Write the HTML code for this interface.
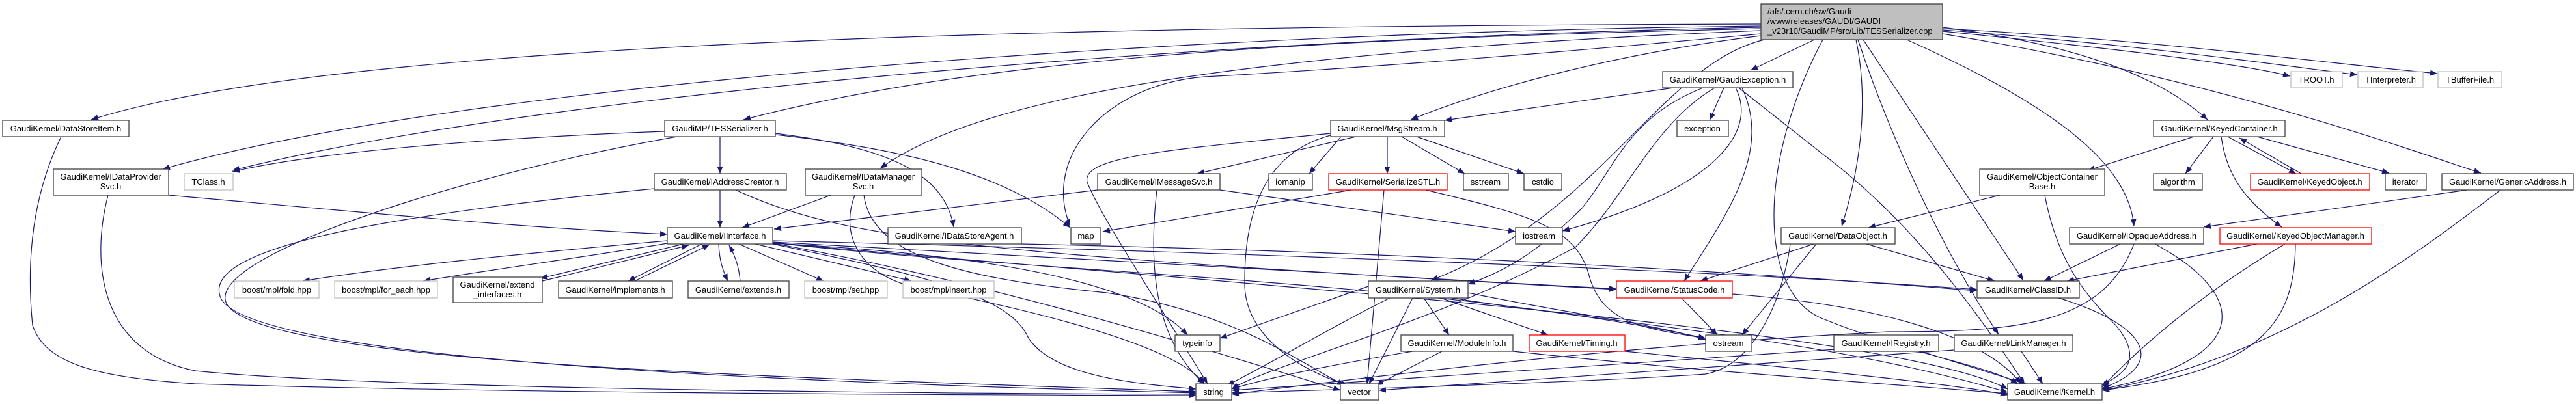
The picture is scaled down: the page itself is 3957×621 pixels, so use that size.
<!DOCTYPE html>
<html><head><meta charset="utf-8"><style>
html,body{margin:0;padding:0;background:#fff;}
svg{display:block;}
text{font-family:"Liberation Sans",sans-serif;font-size:13px;fill:#000;}
</style></head><body>
<svg width="3957" height="621" viewBox="0 0 3957 621" xmlns="http://www.w3.org/2000/svg">
<defs>
<marker id="a" markerUnits="userSpaceOnUse" markerWidth="11" markerHeight="9" refX="11" refY="4.5" orient="auto">
<path d="M0,0 L11,4.5 L0,9 z" fill="#191970"/>
</marker>
</defs>
<rect width="3957" height="621" fill="#fff"/>
<g fill="none" stroke="#191970" stroke-width="1.2" marker-end="url(#a)">
<!-- main node edges -->
<path d="M2705,37 C1500,40 500,70 140,184"/>
<path d="M2705,40 C1800,50 700,130 250,260"/>
<path d="M2705,42 C1800,60 800,150 357,262"/>
<path d="M2705,44 C2000,60 1500,90 1142,184"/>
<path d="M2705,47 C1900,80 1500,150 1352,259"/>
<path d="M2705,52 C2300,90 2000,110 1850,118 C1700,130 1600,240 1644,348"/>
<path d="M2705,55 C2500,80 2300,130 2167,184"/>
<path d="M2787,61 L2689,108"/>
<path d="M2710,61 C2550,100 2460,330 2198,431"/>
<path d="M2851,61 C2870,150 2860,250 2829,348"/>
<path d="M2862,61 L3108,431"/>
<path d="M2854,61 C2900,200 2980,380 3070,514"/>
<path d="M2929,61 C3150,160 3270,250 3278,348"/>
<path d="M2984,42 C3200,70 3320,120 3391,184"/>
<path d="M2984,48 C3300,80 3450,100 3518,117"/>
<path d="M2984,46 C3300,70 3500,100 3621,115"/>
<path d="M2984,44 C3300,60 3600,100 3744,113"/>
<path d="M2984,52 C3400,120 3700,230 3811,266"/>
<path d="M2800,61 C2700,250 2700,450 2800,490 C2950,550 3050,560 3100,590"/>
<!-- TESSerializer -->
<path d="M1106,210 L1106,267"/>
<path d="M1021,202 C800,210 500,230 357,264"/>
<path d="M1191,207 C1400,230 1550,270 1644,350"/>
<path d="M1191,205 C1350,225 1450,260 1465,349"/>
<path d="M1040,210 C700,270 300,400 350,470 C420,560 1200,580 1837,602"/>
<!-- IAddressCreator -->
<path d="M1106,292 L1106,350"/>
<path d="M1005,290 C600,330 300,380 340,460 C400,560 1300,590 1837,604"/>
<path d="M1130,292 C1300,370 1500,390 2483,445"/>
<!-- IDataProviderSvc -->
<path d="M259,300 C600,330 800,350 1025,360"/>
<path d="M166,300 C140,400 150,540 300,570 C600,600 1500,605 1837,606"/>
<!-- DataStoreItem -->
<path d="M94,210 C50,300 40,400 50,500 C70,560 150,580 300,590 C800,605 1500,607 1837,608"/>
<!-- IDataManagerSvc -->
<path d="M1276,300 L1140,350"/>
<path d="M1313,300 C1290,360 1320,420 1400,440 C1500,460 1800,520 1850,590"/>
<path d="M1327,300 C1340,400 1500,430 1700,450 C1900,480 2000,560 2065,592"/>
<!-- IMessageSvc -->
<path d="M1686,292 L1189,352"/>
<path d="M1777,292 C1765,400 1770,520 1850,590"/>
<path d="M1874,292 L2328,356"/>
<!-- IInterface -->
<path d="M1050,375 L830,428"/>
<path d="M833,432 L1058,377"/>
<path d="M1078,375 L965,432"/>
<path d="M975,432 L1090,376"/>
<path d="M1104,375 C1105,400 1110,415 1118,432"/>
<path d="M1137,432 C1135,410 1130,395 1120,377"/>
<path d="M1025,370 C800,390 600,410 465,432"/>
<path d="M1025,374 C900,395 750,415 650,432"/>
<path d="M1135,375 L1265,432"/>
<path d="M1160,375 L1400,432"/>
<path d="M1187,370 C2000,390 2700,420 3037,445"/>
<path d="M1187,372 C1700,400 2200,430 2483,444"/>
<path d="M1187,374 C1500,390 1750,430 1824,515"/>
<path d="M1187,375 C1400,420 1550,450 1580,520 C1620,580 1750,590 1837,598"/>
<path d="M1187,374 C1500,430 1800,520 2059,600"/>
<path d="M1187,373 C1600,420 2200,430 2620,520"/>
<path d="M1187,373 C1800,430 2900,500 3084,598"/>
<path d="M1569,375 C1800,380 2400,395 3037,447"/>
<!-- MsgStream -->
<path d="M2083,210 L1839,267"/>
<path d="M2131,210 L2131,267"/>
<path d="M2060,210 L2011,267"/>
<path d="M2153,210 L2250,267"/>
<path d="M2176,210 L2341,267"/>
<path d="M2044,205 C1800,230 1660,240 1670,280 C1690,330 1750,420 1855,590"/>
<path d="M2044,208 C1960,230 1910,300 1912,440 C1915,520 2000,570 2070,592"/>
<!-- SerializeSTL -->
<path d="M2076,292 L1694,356"/>
<path d="M2126,292 L2100,590"/>
<path d="M2190,292 C2350,330 2420,350 2440,420 C2460,500 2530,505 2620,520"/>
<!-- GaudiException -->
<path d="M2571,135 L2219,185"/>
<path d="M2648,135 L2626,185"/>
<path d="M2616,135 C2500,180 2480,260 2430,320 C2350,400 2300,420 2255,437"/>
<path d="M2634,135 C2540,190 2500,300 2420,380 C2200,500 1950,560 1892,598"/>
<path d="M2666,135 C2700,200 2640,290 2400,355"/>
<path d="M2676,135 C2720,230 2660,320 2587,432"/>
<path d="M2671,135 L2800,237 C2950,350 3050,500 3110,590"/>
<!-- System -->
<path d="M2102,440 L1874,520"/>
<path d="M2135,458 C2050,500 1950,560 1885,592"/>
<path d="M2170,458 L2103,590"/>
<path d="M2187,458 L2226,515"/>
<path d="M2213,458 L2378,515"/>
<path d="M2230,458 C2500,500 2800,520 3084,603"/>
<path d="M2255,450 C2400,480 2550,500 2620,522"/>
<!-- ModuleInfo / Timing -->
<path d="M2215,540 L2114,592"/>
<path d="M2170,540 C2050,560 1950,580 1892,598"/>
<path d="M2324,540 C2600,570 2900,590 3084,605"/>
<path d="M2496,540 C2800,570 3000,590 3084,607"/>
<!-- StatusCode -->
<path d="M2583,458 L2638,515"/>
<path d="M2661,452 C2900,470 3050,520 3105,590"/>
<!-- DataObject -->
<path d="M2786,375 L2612,432"/>
<path d="M2790,375 L2676,515"/>
<path d="M2867,375 L3064,432"/>
<path d="M2750,375 C2740,450 2700,560 2620,575 C2400,590 2000,600 1892,604"/>
<!-- ObjectContainerBase -->
<path d="M3072,300 L2870,350"/>
<path d="M3141,300 C3160,400 3200,450 3250,500 C3300,560 3250,580 3229,592"/>
<!-- KeyedContainer -->
<path d="M3370,210 L3207,262"/>
<path d="M3400,210 L3357,267"/>
<path d="M3422,210 L3527,267"/>
<path d="M3535,267 L3440,212"/>
<path d="M3467,210 L3670,266"/>
<path d="M3412,210 C3420,270 3450,310 3505,349"/>
<!-- KeyedObjectManager -->
<path d="M3467,375 L3175,432"/>
<path d="M3510,375 C3400,440 3300,520 3229,595"/>
<path d="M3526,375 C3525,500 3470,570 3229,600"/>
<!-- IOpaqueAddress -->
<path d="M3257,375 L3140,432"/>
<path d="M3310,375 C3450,450 3470,550 3229,598"/>
<path d="M3278,375 C3230,500 3100,510 2900,510 C2500,530 2100,580 1892,606"/>
<!-- GenericAddress -->
<path d="M3790,292 L3385,349"/>
<path d="M3841,292 C3700,400 3500,550 3229,600"/>
<!-- ClassID, IRegistry, LinkManager -->
<path d="M3162,458 C3300,500 3330,560 3229,597"/>
<path d="M2950,540 L3112,590"/>
<path d="M2820,537 L1892,600"/>
<path d="M3105,540 L3138,590"/>
<path d="M3002,538 L2118,600"/>
</g>

<g stroke-width="1.3">
<!-- main node -->
<rect x="2705" y="6" width="279" height="55" fill="#bfbfbf" stroke="#404040"/>
<text x="2715" y="22">/afs/.cern.ch/sw/Gaudi</text>
<text x="2715" y="37">/www/releases/GAUDI/GAUDI</text>
<text x="2715" y="52">_v23r10/GaudiMP/src/Lib/TESSerializer.cpp</text>
</g>

<g fill="#fff" stroke="#404040" stroke-width="1.3">
<rect x="4" y="185" width="194" height="25"/>
<rect x="82" y="260" width="177" height="40"/>
<rect x="1021" y="185" width="170" height="25"/>
<rect x="1005" y="267" width="203" height="25"/>
<rect x="1237" y="260" width="179" height="40"/>
<rect x="1025" y="350" width="162" height="25"/>
<rect x="696" y="426" width="137" height="39"/>
<rect x="858" y="432" width="175" height="26"/>
<rect x="1057" y="432" width="155" height="26"/>
<rect x="1364" y="350" width="205" height="25"/>
<rect x="1645" y="350" width="46" height="25"/>
<rect x="1686" y="267" width="188" height="25"/>
<rect x="1949" y="267" width="67" height="25"/>
<rect x="2044" y="185" width="175" height="25"/>
<rect x="1805" y="515" width="69" height="25"/>
<rect x="1837" y="590" width="55" height="25"/>
<rect x="2059" y="590" width="59" height="25"/>
<rect x="2554" y="110" width="200" height="25"/>
<rect x="2576" y="185" width="79" height="25"/>
<rect x="2248" y="267" width="69" height="25"/>
<rect x="2341" y="267" width="58" height="25"/>
<rect x="2328" y="350" width="72" height="25"/>
<rect x="2102" y="432" width="153" height="26"/>
<rect x="2152" y="515" width="172" height="25"/>
<rect x="2620" y="515" width="71" height="25"/>
<rect x="2736" y="350" width="175" height="25"/>
<rect x="3308" y="185" width="202" height="25"/>
<rect x="3041" y="260" width="192" height="40"/>
<rect x="3308" y="267" width="75" height="25"/>
<rect x="3664" y="267" width="63" height="25"/>
<rect x="3751" y="267" width="202" height="25"/>
<rect x="3179" y="350" width="206" height="25"/>
<rect x="3037" y="432" width="157" height="26"/>
<rect x="2817" y="515" width="161" height="25"/>
<rect x="3002" y="515" width="182" height="25"/>
<rect x="3084" y="590" width="145" height="25"/>
</g>
<g fill="#fff" stroke="#ff0000" stroke-width="1.3">
<rect x="2041" y="267" width="182" height="25"/>
<rect x="2483" y="432" width="178" height="26"/>
<rect x="2349" y="515" width="147" height="25"/>
<rect x="3457" y="267" width="183" height="25"/>
<rect x="3410" y="350" width="233" height="25"/>
</g>
<g fill="#fff" stroke="#bfbfbf" stroke-width="1.3">
<rect x="283" y="267" width="75" height="25"/>
<rect x="360" y="432" width="130" height="26"/>
<rect x="514" y="432" width="158" height="26"/>
<rect x="1236" y="432" width="127" height="26"/>
<rect x="1387" y="432" width="140" height="26"/>
<rect x="3519" y="110" width="79" height="25"/>
<rect x="3622" y="110" width="100" height="25"/>
<rect x="3745" y="110" width="98" height="25"/>
</g>

<g text-anchor="middle">
<text x="101" y="202">GaudiKernel/DataStoreItem.h</text>
<text x="170" y="276">GaudiKernel/IDataProvider</text>
<text x="170" y="291">Svc.h</text>
<text x="320" y="284">TClass.h</text>
<text x="1106" y="202">GaudiMP/TESSerializer.h</text>
<text x="1106" y="284">GaudiKernel/IAddressCreator.h</text>
<text x="1326" y="276">GaudiKernel/IDataManager</text>
<text x="1326" y="291">Svc.h</text>
<text x="1106" y="367">GaudiKernel/IInterface.h</text>
<text x="764" y="442">GaudiKernel/extend</text>
<text x="764" y="457">_interfaces.h</text>
<text x="945" y="450">GaudiKernel/implements.h</text>
<text x="1134" y="450">GaudiKernel/extends.h</text>
<text x="425" y="450">boost/mpl/fold.hpp</text>
<text x="593" y="450">boost/mpl/for_each.hpp</text>
<text x="1299" y="450">boost/mpl/set.hpp</text>
<text x="1457" y="450">boost/mpl/insert.hpp</text>
<text x="1466" y="367">GaudiKernel/IDataStoreAgent.h</text>
<text x="1668" y="367">map</text>
<text x="1780" y="284">GaudiKernel/IMessageSvc.h</text>
<text x="1982" y="284">iomanip</text>
<text x="2132" y="284">GaudiKernel/SerializeSTL.h</text>
<text x="2131" y="202">GaudiKernel/MsgStream.h</text>
<text x="1839" y="532">typeinfo</text>
<text x="1864" y="607">string</text>
<text x="2088" y="607">vector</text>
<text x="2654" y="127">GaudiKernel/GaudiException.h</text>
<text x="2615" y="202">exception</text>
<text x="2282" y="284">sstream</text>
<text x="2370" y="284">cstdio</text>
<text x="2364" y="367">iostream</text>
<text x="2178" y="450">GaudiKernel/System.h</text>
<text x="2572" y="450">GaudiKernel/StatusCode.h</text>
<text x="2238" y="532">GaudiKernel/ModuleInfo.h</text>
<text x="2422" y="532">GaudiKernel/Timing.h</text>
<text x="2655" y="532">ostream</text>
<text x="2823" y="367">GaudiKernel/DataObject.h</text>
<text x="3409" y="202">GaudiKernel/KeyedContainer.h</text>
<text x="3137" y="276">GaudiKernel/ObjectContainer</text>
<text x="3137" y="291">Base.h</text>
<text x="3345" y="284">algorithm</text>
<text x="3548" y="284">GaudiKernel/KeyedObject.h</text>
<text x="3695" y="284">iterator</text>
<text x="3852" y="284">GaudiKernel/GenericAddress.h</text>
<text x="3282" y="367">GaudiKernel/IOpaqueAddress.h</text>
<text x="3526" y="367">GaudiKernel/KeyedObjectManager.h</text>
<text x="3115" y="450">GaudiKernel/ClassID.h</text>
<text x="2897" y="532">GaudiKernel/IRegistry.h</text>
<text x="3093" y="532">GaudiKernel/LinkManager.h</text>
<text x="3156" y="607">GaudiKernel/Kernel.h</text>
<text x="3558" y="127">TROOT.h</text>
<text x="3672" y="127">TInterpreter.h</text>
<text x="3794" y="127">TBufferFile.h</text>
</g>
</svg>
</body></html>
